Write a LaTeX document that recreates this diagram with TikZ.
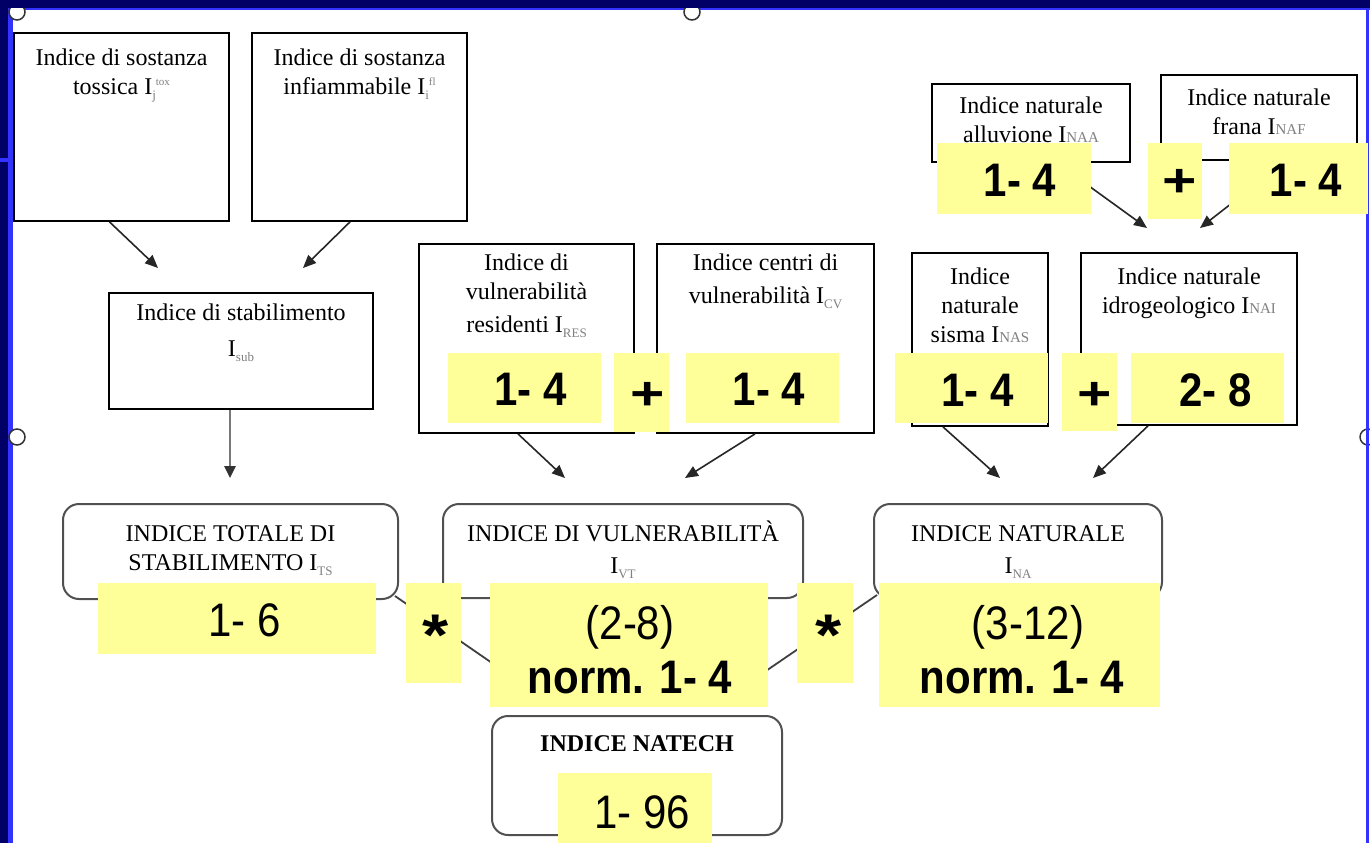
\documentclass[tikz,border=0pt]{standalone}
\usepackage{fontspec}
\usepackage{graphicx}
\setmainfont{Liberation Serif}
\newfontfamily\arialf{Liberation Sans}
\usetikzlibrary{arrows.meta}
\definecolor{navy}{RGB}{0,0,102}
\definecolor{brightblue}{RGB}{51,51,255}
\definecolor{yel}{RGB}{255,255,153}
\definecolor{subgray}{RGB}{128,128,128}
\definecolor{rbord}{RGB}{80,80,80}
\definecolor{arrgray}{RGB}{120,120,120}
\newcommand\sbs[1]{\raisebox{-5pt}{\textcolor{subgray}{\fontsize{13}{13}\selectfont #1}}}
\newcommand\sps[1]{\raisebox{9pt}{\textcolor{subgray}{\fontsize{11}{11}\selectfont #1}}}
\newcommand\scs[1]{\textcolor{subgray}{\fontsize{15}{15}\selectfont #1}}
\newcommand\st{\rule{0pt}{22pt}}
\newcommand\bignum[1]{\scalebox{1}[1.12]{#1}}
\newcommand\plussign{\scalebox{1.4}[1.1]{+}}
\newcommand\starsign{\scalebox{1.6}[1.4]{*}}
\tikzset{
  sqbox/.style={draw=black, line width=1.8pt, fill=white, inner sep=0pt},
  rbox/.style={draw=rbord, line width=2pt, fill=white, rounded corners=16pt, inner sep=0pt},
  txt/.style={anchor=north, inner sep=0pt, align=center, font=\fontsize{24}{29}\selectfont},
  yb/.style={fill=yel, draw=none, inner sep=0pt},
  nb/.style={inner sep=0pt, font=\arialf\bfseries\fontsize{42}{46}\selectfont},
  nr/.style={inner sep=0pt, font=\arialf\fontsize{42}{46}\selectfont},
  arr/.style={draw=black!85, line width=1.6pt, -{Triangle[length=13pt,width=11pt]}},
  arrg/.style={draw=arrgray, line width=2.5pt, -{Triangle[length=12pt,width=11pt,color=black!80]}},
  conn/.style={draw=black!75, line width=1.8pt},
  handle/.style={fill=white, draw=black!80, line width=1.5pt}
}
\begin{document}
\begin{tikzpicture}[x=1pt,y=-1pt]
\useasboundingbox (0,0) rectangle (1370,843);
% frame
\fill[white] (0,0) rectangle (1370,843);
\fill[brightblue] (8,0) rectangle (13,843);
\fill[brightblue] (0,8) rectangle (1370,10.5);
\draw[handle] (17,12) circle (8);
\draw[handle] (692,12) circle (8);
\draw[handle] (17,437) circle (8);
\draw[handle] (1368,437) circle (8);
\fill[brightblue] (1365.5,10) rectangle (1368.5,843);
\fill[navy] (0,0) rectangle (1370,8);
\fill[navy] (0,0) rectangle (8,843);
\fill[brightblue] (0,158) rectangle (8,162);

% square boxes
\node[sqbox, minimum width=215pt, minimum height=188pt] (A) at (121.5,127) {};
\node[sqbox, minimum width=215pt, minimum height=188pt] (B) at (359.5,127) {};
\node[sqbox, minimum width=264pt, minimum height=116pt] (C) at (241,351) {};
\node[sqbox, minimum width=215pt, minimum height=189pt] (D) at (526.5,338.5) {};
\node[sqbox, minimum width=217pt, minimum height=189pt] (E) at (765.5,338.5) {};
\node[sqbox, minimum width=198pt, minimum height=78pt] (F) at (1031,123) {};
\node[sqbox, minimum width=196pt, minimum height=85pt] (G) at (1259,117.5) {};
\node[sqbox, minimum width=136pt, minimum height=173pt] (H) at (980,339.5) {};
\node[sqbox, minimum width=216pt, minimum height=172pt] (I) at (1189,339) {};
% rounded boxes
\node[rbox, minimum width=335pt, minimum height=95pt] (J) at (230.5,551.5) {};
\node[rbox, minimum width=360pt, minimum height=94pt] (K) at (623,551) {};
\node[rbox, minimum width=288pt, minimum height=94pt] (L) at (1018,551) {};
\node[rbox, minimum width=290pt, minimum height=119pt] (M) at (637,775.5) {};

% arrow ends
\coordinate (aC1) at (158,268);
\coordinate (aC2) at (303,268);
\coordinate (aJ) at (230,478);
\coordinate (aK1) at (565,478);
\coordinate (aK2) at (685,478);
\coordinate (aL1) at (1000,478);
\coordinate (aL2) at (1093,478);
\coordinate (aI1) at (1147,228);
\coordinate (aI2) at (1200,228);
\coordinate (kin) at (500,668.5);
\coordinate (kout) at (760,675);

\draw[arr] ([xshift=-12pt]A.south) -- (aC1);
\draw[arr] ([xshift=-9.5pt]B.south) -- (aC2);
\draw[arrg] ([xshift=-11pt]C.south) -- (aJ);
\draw[arr] ([xshift=-8.5pt]D.south) -- (aK1);
\draw[arr] ([xshift=-10.5pt]E.south) -- (aK2);
\draw[arr] ([xshift=-37pt]H.south) -- (aL1);
\draw[arr] ([xshift=-41pt]I.south) -- (aL2);
\draw[arr] ([xshift=26pt]F.south) -- (aI1);
\draw[arr] ([xshift=27pt]G.south) -- (aI2);
\draw[conn] ([shift={(-4,-4)}]J.south east) -- (kin);
\draw[conn] (kout) -- ([shift={(4,-4)}]L.south west);

% yellow boxes
\node[yb, minimum width=153pt, minimum height=70pt] (y1) at (524.5,388) {};
\node[yb, minimum width=55pt, minimum height=79pt] (p1) at (641.5,392.5) {};
\node[yb, minimum width=153pt, minimum height=70pt] (y2) at (762.5,388) {};
\node[yb, minimum width=154pt, minimum height=71pt] (y3) at (1014,178.5) {};
\node[yb, minimum width=54pt, minimum height=76pt] (p2) at (1175,181) {};
\node[yb, minimum width=139pt, minimum height=71pt] (y4) at (1298.5,178.5) {};
\node[yb, minimum width=153pt, minimum height=70pt] (y5) at (971.5,388) {};
\node[yb, minimum width=55pt, minimum height=78pt] (p3) at (1089.5,392) {};
\node[yb, minimum width=153pt, minimum height=70pt] (y6) at (1207.5,388) {};
\node[yb, minimum width=278pt, minimum height=71pt] (y7) at (237,618.5) {};
\node[yb, minimum width=55pt, minimum height=100pt] (s1) at (433.5,633) {};
\node[yb, minimum width=278pt, minimum height=124pt] (y8) at (629,645) {};
\node[yb, minimum width=56pt, minimum height=100pt] (s2) at (825,633) {};
\node[yb, minimum width=281pt, minimum height=124pt] (y9) at (1019.5,645) {};
\node[yb, minimum width=154pt, minimum height=70pt] (y10) at (635,808) {};

% box texts
\node[txt] (tA) at (121.5,43) {\st Indice di sostanza\\ tossica I\sbs{j}\sps{tox}};
\node[txt] (tB) at (359.5,43) {\st Indice di sostanza\\ infiammabile I\sbs{i}\sps{fl}};
\node[txt] (tC) at (241,298) {\st Indice di stabilimento\\[7pt] I\sbs{sub}};
\node[txt] (tD) at (526.5,248) {\st Indice di\\ vulnerabilità\\[4pt] residenti I\sbs{RES}};
\node[txt] (tE) at (765.5,248) {\st Indice centri di\\[4pt] vulnerabilità I\sbs{CV}};
\node[txt] (tF) at (1031,91) {\st Indice naturale\\ alluvione I\scs{NAA}};
\node[txt] (tG) at (1259,83) {\st Indice naturale\\ frana I\scs{NAF}};
\node[txt] (tH) at (980,262) {\st Indice\\ naturale\\ sisma I\scs{NAS}};
\node[txt] (tI) at (1189,262) {\st Indice naturale\\ idrogeologico I\scs{NAI}};
\node[txt] (tJ) at (230.5,519) {\st INDICE TOTALE DI\\ STABILIMENTO I\sbs{TS}};
\node[txt] (tK) at (623,519) {\st INDICE DI VULNERABILITÀ\\[3pt] I\sbs{VT}};
\node[txt] (tL) at (1018,519) {\st INDICE NATURALE\\[3pt] I\sbs{NA}};
\node[txt] (tM) at (637,729) {\st\bfseries INDICE NATECH};

% numbers
\node[nb] (n1) at (530.5,389) {\bignum{1- 4}};
\node[nb] (o1) at (648,396) {\plussign};
\node[nb] (n2) at (769,389) {\bignum{1- 4}};
\node[nb] (n3) at (1020,180) {\bignum{1- 4}};
\node[nb] (o2) at (1180,183) {\plussign};
\node[nb] (n4) at (1306,180) {\bignum{1- 4}};
\node[nb] (n5) at (977.5,390) {\bignum{1- 4}};
\node[nb] (o3) at (1095,396) {\plussign};
\node[nb] (n6) at (1215.5,390) {\bignum{2- 8}};
\node[nr] (n7) at (244.5,620) {\bignum{1- 6}};
\node[nb, anchor=base] (m1) at (436,655) {\starsign};
\node[nr] (n8a) at (630,627) {\bignum{(2-8)}};
\node[nb] (n8b) at (630,678) {\bignum{norm. 1- 4}};
\node[nb, anchor=base] (m2) at (829,655) {\starsign};
\node[nr] (n9a) at (1028,627) {\bignum{(3-12)}};
\node[nb] (n9b) at (1022,678) {\bignum{norm. 1- 4}};
\node[nr] (n10) at (642,812) {\bignum{1- 96}};
\end{tikzpicture}
\end{document}
